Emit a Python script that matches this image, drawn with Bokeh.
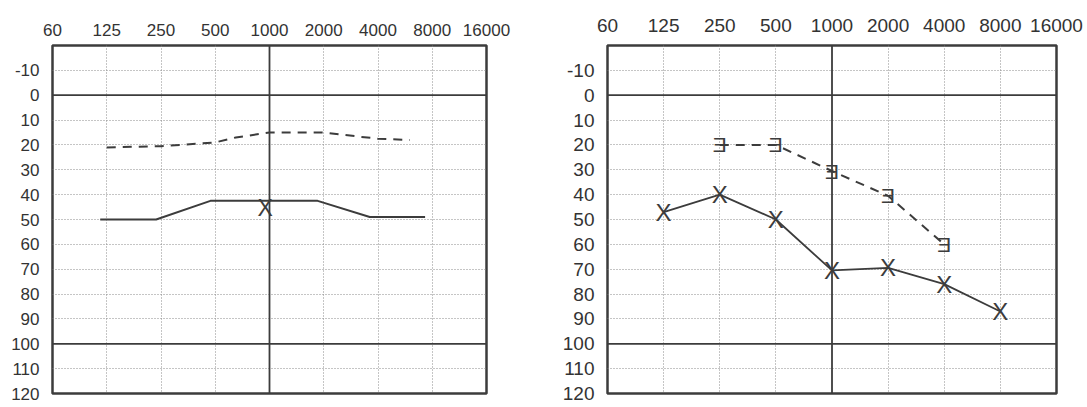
import numpy as np
from bokeh.plotting import figure
from bokeh.layouts import row
from bokeh.models import FixedTicker, Span, Range1d
from bokeh.core.properties import value
from bokeh.embed import file_html
from bokeh.resources import INLINE

# ---------------- data ----------------
freq_ticks = [62.5, 125, 250, 500, 1000, 2000, 4000, 8000, 16000]
freq_labels = ["60", "125", "250", "500", "1000", "2000", "4000", "8000", "16000"]
db_ticks = [-10, 0, 10, 20, 30, 40, 50, 60, 70, 80, 90, 100, 110, 120]
db_labels = ["-10", "0", "10", "20", "30", "40", "50", "60", "70", "80", "90", "100", "110", "120"]
grid_freqs = [125, 250, 500, 2000, 4000, 8000]
grid_dbs = [-10, 10, 20, 30, 40, 50, 60, 70, 80, 90, 110]

# left audiogram
left_dash_freq = [125, 250, 500, 650, 1000, 2000, 3000, 4000, 6000]
left_dash_db = [21, 20.5, 19, 17, 15, 15, 16.5, 17.5, 18]
left_solid_freq = [115, 235, 470, 1850, 3600, 7300]
left_solid_db = [50, 50, 42.5, 42.5, 49, 49]
left_mark_freq = [945]
left_mark_db = [45.5]

# right audiogram
right_ac_freq = [125, 250, 500, 1000, 2000, 4000, 8000]
right_ac_db = [47, 40, 50, 70.5, 69.5, 76, 87]
right_bc_freq = [250, 500, 1000, 2000, 4000]
right_bc_db = [20, 20, 30.5, 40.5, 60]

INK = "#3c3c3c"
GRID = "#8a8a8a"
FONT = "Liberation Sans"


def make_panel(width, height, bl, br, bt, bb, fs, xstand, ystand):
    p = figure(width=width, height=height, x_axis_type="log",
               x_range=Range1d(62.5, 16000), y_range=Range1d(120, -20),
               x_axis_location="above", output_backend="svg",
               toolbar_location=None, min_border_left=bl, min_border_right=br,
               min_border_top=bt, min_border_bottom=bb)
    p.background_fill_color = "white"
    p.border_fill_color = "white"
    p.outline_line_color = INK
    p.outline_line_width = 2.5

    p.xaxis.ticker = FixedTicker(ticks=freq_ticks)
    p.xaxis.major_label_overrides = {float(f): l for f, l in zip(freq_ticks, freq_labels)}
    p.yaxis.ticker = FixedTicker(ticks=db_ticks)
    p.yaxis.major_label_overrides = {float(d): l for d, l in zip(db_ticks, db_labels)}
    for ax in (p.xaxis, p.yaxis):
        ax.axis_line_color = None
        ax.major_tick_line_color = None
        ax.minor_tick_line_color = None
        ax.major_label_text_font = FONT
        ax.major_label_text_font_size = fs
        ax.major_label_text_color = "#333333"
    p.xaxis.major_label_standoff = xstand
    p.yaxis.major_label_standoff = ystand

    p.xgrid.ticker = FixedTicker(ticks=grid_freqs)
    p.ygrid.ticker = FixedTicker(ticks=grid_dbs)
    for g in (p.xgrid, p.ygrid):
        g.grid_line_color = GRID
        g.grid_line_dash = "1 2"
        g.grid_line_width = 1

    p.add_layout(Span(location=0, dimension="width", line_color=INK, line_width=1.8))
    p.add_layout(Span(location=100, dimension="width", line_color=INK, line_width=1.8))
    p.add_layout(Span(location=1000, dimension="height", line_color=INK, line_width=1.8))
    return p


p1 = make_panel(516, 406, 52, 30, 45, 13, "17px", 4, 7)
p1.line(left_dash_freq, left_dash_db, line_color=INK, line_width=2, line_dash="9 7")
p1.line(left_solid_freq, left_solid_db, line_color=INK, line_width=2)
p1.text(left_mark_freq, left_mark_db, text=["X"], text_font=value(FONT),
        text_font_size="23px", text_align="center", text_baseline="middle", text_color=INK)

p2 = make_panel(570, 406, 91, 30, 44, 9, "19px", 8, 7)
p2.line(right_bc_freq, right_bc_db, line_color=INK, line_width=2, line_dash="9 7")
p2.line(right_ac_freq, right_ac_db, line_color=INK, line_width=1.8)
p2.text(right_ac_freq, right_ac_db, text=["X"] * len(right_ac_freq), text_font=value(FONT),
        text_font_size="24px", text_align="center", text_baseline="middle", text_color=INK)
p2.text(right_bc_freq, right_bc_db, text=["\u018e"] * len(right_bc_freq),
        text_font=value(FONT),
        text_font_size="21px", text_align="center", text_baseline="middle", text_color=INK)

layout = row(p1, p2)
open("out.html", "w").write(file_html(layout, INLINE))
